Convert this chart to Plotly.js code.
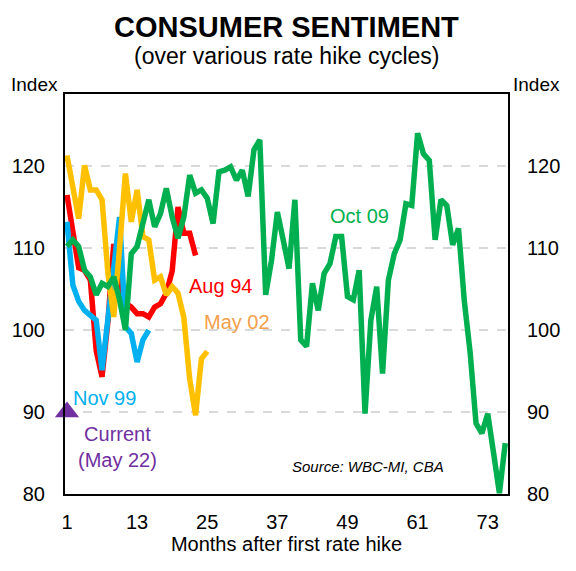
<!DOCTYPE html>
<html>
<head>
<meta charset="utf-8">
<script src="https://cdn.plot.ly/plotly-3.0.1.min.js"></script>
<style>html,body{margin:0;padding:0;background:#fff;}#chart{width:576px;height:571px;}</style>
</head>
<body>
<div id="chart"></div>
<script>
// Months after first rate hike
const xTicks = [1, 13, 25, 37, 49, 61, 73];
const yTicks = [80, 90, 100, 110, 120];

// Aug 94 cycle
const aug94 = [116.5, 112, 107.6, 107.3, 106.1, 97.5, 94.3, 101, 110.5, 106, 103.3, 102.8, 102, 102, 101.6,
  102.8, 103.2, 104.5, 107.2, 115, 111.8, 111.8, 109.1];
// Nov 99 cycle
const nov99 = [113.2, 105.5, 103.5, 102.4, 101.8, 101.2, 95.1, 101.6, 107, 113.8, 100.4, 99.6, 96.1, 98.8, 100];
// May 02 cycle
const may02 = [121.3, 117.5, 113.6, 120.1, 117.1, 117.1, 115.9, 107, 101.6, 110, 119.1, 113.2, 117.1, 111.4, 111,
  106.1, 106.5, 104.3, 105.3, 104.5, 101.5, 94, 89.6, 96.5, 97.4];
// Oct 09 cycle
const oct09 = [110.2, 111, 110.2, 107.3, 106.5, 104.3, 105.7, 105.3, 106.5, 103.7,
  100, 109.3, 110.2, 113.4, 115.9, 112.6, 114.2, 117.3, 113.8, 111.2,
  113.8, 118.9, 116.7, 117.1, 116.1, 113, 119.3, 119.5, 119.9, 118.3,
  119.5, 116.3, 122, 123.2, 104.3, 108.5, 114.4, 111, 107.5, 115.9,
  98.8, 98, 105.7, 102.4, 106.9, 108.1, 111.4, 111.4, 104.1, 103.7,
  107.3, 89.8, 101.2, 105.3, 94.7, 106.1, 109.3, 111, 115.4, 115.2,
  124, 121.5, 120.7, 111, 115.9, 115.2, 110.4, 112.4, 103.5, 97.2,
  88.6, 87.4, 89.8, 85, 80.1, 86.2];
// Current (May 22)
const currentMonth = [1];
const currentValue = [90];

const months = arr => arr.map((_, i) => i + 1);

const FONT = 'Liberation Sans, Arial, sans-serif';

const mkLine = (y, color, name) => ({
  x: months(y), y: y, type: 'scatter', mode: 'lines', name: name,
  line: {color: color, width: 5.5}, hoverinfo: 'skip', showlegend: false
});

const traces = [
  mkLine(aug94, '#ff0000', 'Aug 94'),
  mkLine(nov99, '#00b0f0', 'Nov 99'),
  mkLine(may02, '#ffc000', 'May 02'),
  mkLine(oct09, '#00b050', 'Oct 09'),
  {
    x: currentMonth, y: currentValue, type: 'scatter', mode: 'markers', yaxis: 'y2',
    marker: {symbol: 'triangle-up', size: 21, color: '#7030a0'},
    cliponaxis: false, showlegend: false, hoverinfo: 'skip'
  }
];

const ann = (text, x, y, color, size, extra) => Object.assign({
  text: text, x: x, y: y, xref: 'x', yref: 'y', showarrow: false,
  font: {family: FONT, size: size, color: color}, xanchor: 'center', yanchor: 'middle'
}, extra || {});

const layout = {
  width: 576, height: 571,
  margin: {l: 65, r: 68, t: 94, b: 77},
  paper_bgcolor: '#ffffff', plot_bgcolor: '#ffffff',
  font: {family: FONT, size: 20, color: '#000'},
  showlegend: false,
  xaxis: {
    range: [0.66, 76.47], tickmode: 'array', tickvals: xTicks, ticktext: xTicks.map(String),
    showgrid: false, zeroline: false, showline: true, linecolor: '#000', linewidth: 2, mirror: true,
    ticks: 'outside', ticklen: 9, tickcolor: 'rgba(0,0,0,0)',
    tickfont: {family: FONT, size: 20, color: '#000'},
    title: {text: 'Months after first rate hike', font: {family: FONT, size: 20, color: '#000'}, standoff: 2}
  },
  yaxis: {
    range: [80, 128.8], tickmode: 'array', tickvals: yTicks, ticktext: yTicks.map(String),
    showgrid: true, gridcolor: '#d9d9d9', gridwidth: 2, griddash: 'dash',
    zeroline: false, showline: true, linecolor: '#000', linewidth: 2, mirror: true,
    ticks: 'outside', ticklen: 14, tickcolor: 'rgba(0,0,0,0)',
    tickfont: {family: FONT, size: 20, color: '#000'}
  },
  yaxis2: {
    overlaying: 'y', side: 'right', matches: 'y', range: [80, 128.8],
    tickmode: 'array', tickvals: yTicks, ticktext: yTicks.map(String),
    showgrid: false, zeroline: false, showline: false,
    ticks: 'outside', ticklen: 14, tickcolor: 'rgba(0,0,0,0)',
    tickfont: {family: FONT, size: 20, color: '#000'}
  },
  annotations: [
    {text: '<b>CONSUMER SENTIMENT</b>', xref: 'paper', yref: 'paper', x: 0.5, y: 1.1675,
      xanchor: 'center', yanchor: 'middle', showarrow: false, font: {family: FONT, size: 29, color: '#000'}},
    {text: '(over various rate hike cycles)', xref: 'paper', yref: 'paper', x: 0.5, y: 1.095,
      xanchor: 'center', yanchor: 'middle', showarrow: false, font: {family: FONT, size: 23, color: '#000'}},
    {text: 'Index', xref: 'paper', yref: 'paper', x: -0.068, y: 1.025, xanchor: 'center', yanchor: 'middle',
      showarrow: false, font: {family: FONT, size: 19, color: '#000'}},
    {text: 'Index', xref: 'paper', yref: 'paper', x: 1.065, y: 1.025, xanchor: 'center', yanchor: 'middle',
      showarrow: false, font: {family: FONT, size: 19, color: '#000'}},
    ann('Oct 09', 51.1, 113.9, '#00b050', 20),
    ann('Aug 94', 27.3, 105.4, '#ff0000', 20),
    ann('May 02', 30.1, 101, '#f5a04a', 20),
    ann('Nov 99', 7.5, 91.7, '#00b0f0', 20),
    ann('Current<br>(May 22)', 9.7, 85.7, '#7030a0', 20),
    ann('<i>Source: WBC-MI, CBA</i>', 52.5, 83.3, '#000', 15)
  ]
};

Plotly.newPlot('chart', traces, layout, {staticPlot: true, displayModeBar: false});
</script>
</body>
</html>
